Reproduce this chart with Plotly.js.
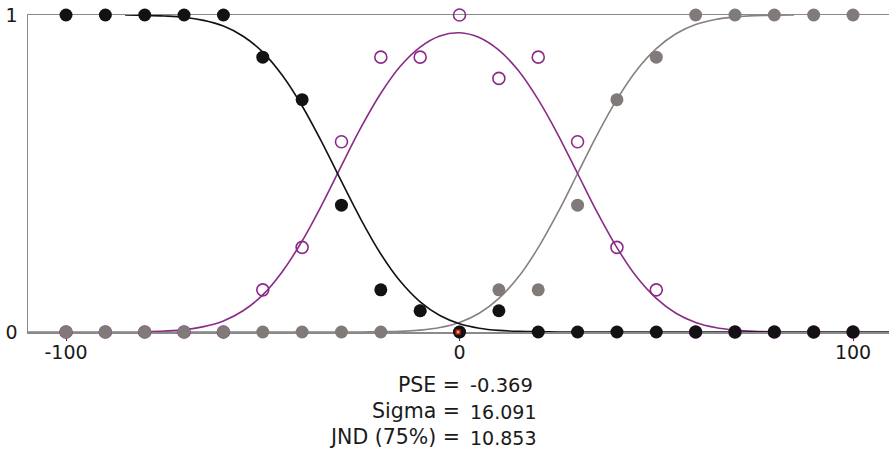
<!DOCTYPE html>
<html>
<head>
<meta charset="utf-8">
<script src="https://cdn.plot.ly/plotly-3.0.1.min.js"></script>
<style>html,body{margin:0;padding:0;background:#fff;}#chart{width:889px;height:454px;}</style>
</head>
<body>
<div id="chart"></div>
<script>
// Stimulus levels and response proportions (15 trials per level)
const levels = [-100,-90,-80,-70,-60,-50,-40,-30,-20,-10,0,10,20,30,40,50,60,70,80,90,100];
const propLeft   = [1,1,1,1,1,0.867,0.733,0.4,0.133,0.067,0,0.067,0,0,0,0,0,0,0,0,0];
const propMiddle = [0,0,0,0,0,0.133,0.267,0.6,0.867,0.867,1,0.8,0.867,0.6,0.267,0.133,0,0,0,0,0];
const propRight  = [0,0,0,0,0,0,0,0,0,0.067,0,0.133,0.133,0.4,0.733,0.867,1,1,1,1,1];

// Fitted curves
const fitLeftX = [-85,-80,-75,-70,-65,-60,-55,-50,-45,-40,-35,-30,-25,-20,-15,-10,-5,0,5,10,15,20,25,30,40,50,60,70,80,90,100,110];
const fitLeftY = [1.000,0.999,0.997,0.993,0.983,0.965,0.933,0.883,0.809,0.713,0.599,0.475,0.354,0.246,0.159,0.095,0.052,0.026,0.012,0.005,0.002,0.001,0,0,0,0,0,0,0,0,0,0];
const fitRightX = [-110,-100,-90,-80,-70,-60,-50,-40,-30,-25,-20,-15,-10,-5,0,5,10,15,20,25,30,35,40,45,50,55,60,65,70,75,80,85];
const fitRightY = [0,0,0,0,0,0,0,0,0,0,0.001,0.002,0.006,0.014,0.030,0.059,0.106,0.174,0.266,0.377,0.5,0.623,0.734,0.826,0.894,0.941,0.970,0.986,0.994,0.998,0.999,1.000];
const fitMidX = [-80,-75,-70,-65,-60,-55,-50,-45,-40,-35,-30,-25,-20,-15,-10,-5,0,5,10,15,20,25,30,35,40,45,50,55,60,65,70,75,80];
const fitMidY = [0.001,0.003,0.007,0.017,0.035,0.067,0.117,0.191,0.287,0.401,0.525,0.646,0.753,0.839,0.899,0.934,0.944,0.929,0.889,0.824,0.733,0.623,0.5,0.377,0.266,0.174,0.106,0.059,0.030,0.014,0.006,0.002,0.001];

const pse = -0.369;
const statLabels = ["PSE =", "Sigma =", "JND (75%) ="];
const statValues = ["-0.369", "16.091", "10.853"];

const xTicks = [-100, 0, 100];
const yTicks = [0, 1];

const cBlack = '#121212', cGray = '#807b79', cGrayLine = '#86817f', cPurple = '#8a2b88';
const FONT = 'DejaVu Sans, Verdana, sans-serif';

const traces = [
  {x: fitRightX, y: fitRightY, mode: 'lines', line: {color: cGrayLine, width: 1.6, shape: 'spline'}, hoverinfo: 'skip'},
  {x: fitMidX, y: fitMidY, mode: 'lines', line: {color: cPurple, width: 1.6, shape: 'spline'}, hoverinfo: 'skip'},
  {x: fitLeftX, y: fitLeftY, mode: 'lines', line: {color: cBlack, width: 1.6, shape: 'spline'}, hoverinfo: 'skip'},
  {x: levels, y: propMiddle, mode: 'markers', cliponaxis: false,
   marker: {symbol: 'circle-open', size: 12, color: cPurple, line: {width: 1.6, color: cPurple}}},
  {x: levels, y: propRight, mode: 'markers', cliponaxis: false,
   marker: {symbol: 'circle', size: 13, color: cGray}},
  {x: levels, y: propLeft, mode: 'markers', cliponaxis: false,
   marker: {symbol: 'circle', size: 13, color: cBlack}},
  {x: [pse], y: [0], mode: 'markers', cliponaxis: false,
   marker: {symbol: 'square', size: 5, color: '#e3261f'}},
  {x: [pse], y: [0], mode: 'markers', cliponaxis: false,
   marker: {symbol: 'square', size: 2, color: '#c8d23a'}}
];

const plotL = 28, plotW = 861, plotT = 15, plotH = 317;
const px2x = p => (p - plotL) / plotW;
const py2y = p => (plotT + plotH - p) / plotH;
const lineY = [385, 411, 437];
const annotations = [];
statLabels.forEach((t, i) => {
  annotations.push({xref: 'paper', yref: 'paper', x: px2x(462), y: py2y(lineY[i]), xanchor: 'right', yanchor: 'middle',
    text: t, showarrow: false, font: {family: FONT, size: 20.5, color: '#1a1a1a'}});
  annotations.push({xref: 'paper', yref: 'paper', x: px2x(468), y: py2y(lineY[i] + (i === 0 ? 0 : 1)), xanchor: 'left', yanchor: 'middle',
    text: statValues[i], showarrow: false, font: {family: FONT, size: i === 0 ? 19.5 : 19, color: '#1a1a1a'}});
});

const layout = {
  width: 889, height: 454,
  margin: {l: plotL, r: 0, t: plotT, b: 454 - plotT - plotH, pad: 0},
  paper_bgcolor: '#ffffff', plot_bgcolor: '#ffffff',
  showlegend: false,
  font: {family: FONT, size: 18, color: '#1a1a1a'},
  xaxis: {range: [-109.66, 109.14], tickvals: xTicks, ticktext: xTicks.map(String),
    ticks: 'outside', ticklen: 7, tickwidth: 1, tickcolor: '#333',
    showline: true, mirror: true, linecolor: '#8a8a8a', linewidth: 1.5, layer: 'below traces',
    showgrid: false, zeroline: false, ticklabelstandoff: -4,
    tickfont: {family: FONT, size: 19, color: '#1a1a1a'}},
  yaxis: {range: [0, 1], tickvals: yTicks, ticktext: yTicks.map(String), ticks: '',
    showline: true, linecolor: '#8a8a8a', linewidth: 1.5, layer: 'below traces',
    showgrid: false, zeroline: false, ticklabelstandoff: 5,
    tickfont: {family: FONT, size: 19, color: '#1a1a1a'}},
  annotations: annotations
};

Plotly.newPlot('chart', traces, layout, {staticPlot: true, displayModeBar: false});
</script>
</body>
</html>
